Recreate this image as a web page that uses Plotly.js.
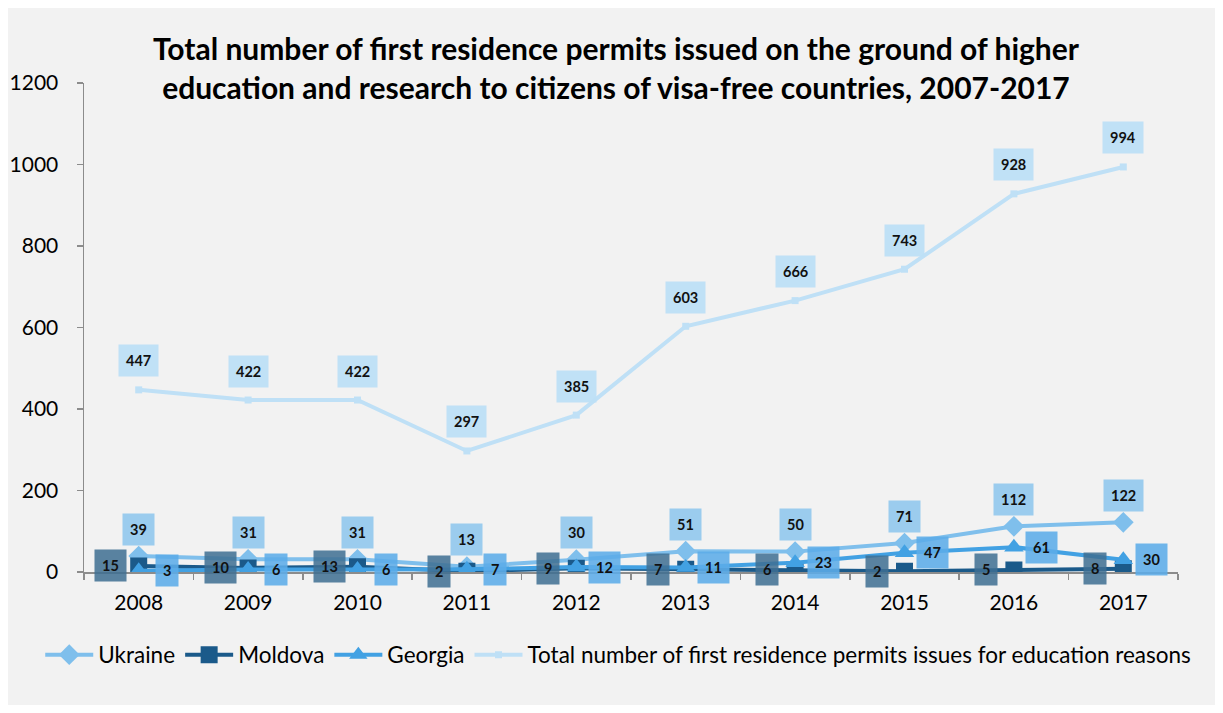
<!DOCTYPE html>
<html>
<head>
<meta charset="utf-8">
<script src="https://cdn.plot.ly/plotly-3.0.1.min.js"></script>
<style>
  html, body { margin: 0; padding: 0; background: #ffffff; }
  #chart { position: absolute; left: 8px; top: 8px; width: 1207px; height: 697px; }
</style>
</head>
<body>
<div id="chart"></div>
<script>
const years = ['2008','2009','2010','2011','2012','2013','2014','2015','2016','2017'];
const ukraine = [39, 31, 31, 13, 30, 51, 50, 71, 112, 122];
const moldova = [15, 10, 13, 2, 9, 7, 6, 2, 5, 8];
const georgia = [3, 6, 6, 7, 12, 11, 23, 47, 61, 30];
const total = [447, 422, 422, 297, 385, 603, 666, 743, 928, 994];
const seriesNames = ['Ukraine', 'Moldova', 'Georgia', 'Total number of first residence permits issues for education reasons'];

const FONT = 'Lato, "Open Sans", sans-serif';
const colors = {
  ukraine: '#7fbfec',
  moldova: '#1b5a8a',
  georgia: '#42a1e3',
  total: '#bfe0f6'
};
const labelBg = {
  ukraine: 'rgba(148,201,238,0.92)',
  moldova: 'rgba(62,110,146,0.85)',
  georgia: 'rgba(92,172,232,0.88)',
  total: 'rgba(189,223,245,0.95)'
};

const traces = [
  { name: seriesNames[0], x: years, y: ukraine, type: 'scatter', mode: 'lines+markers',
    line: { color: colors.ukraine, width: 4 },
    marker: { symbol: 'diamond', size: 16, color: colors.ukraine } },
  { name: seriesNames[1], x: years, y: moldova, type: 'scatter', mode: 'lines+markers',
    line: { color: colors.moldova, width: 4 },
    marker: { symbol: 'square', size: 15, color: colors.moldova, line: { color: colors.moldova, width: 2 } } },
  { name: seriesNames[2], x: years, y: georgia, type: 'scatter', mode: 'lines+markers',
    line: { color: colors.georgia, width: 4 },
    marker: { symbol: 'triangle-up', size: 17, color: colors.georgia } },
  { name: seriesNames[3], x: years, y: total, type: 'scatter', mode: 'lines+markers',
    line: { color: colors.total, width: 4 },
    marker: { symbol: 'square', size: 7, color: colors.total } }
];

// category axis: annotations positioned by category index
function labels(vals, bg, xshift, yshift) {
  return vals.map((v, i) => ({
    x: i, y: v, xref: 'x', yref: 'y', text: String(v), showarrow: false,
    xshift: xshift, yshift: yshift, bgcolor: bg, borderpad: 7,
    font: { family: FONT, size: 14.5, color: '#111111', weight: 'bold' }
  }));
}

const annotations = [].concat(
  labels(total, labelBg.total, 0, 29),
  labels(ukraine, labelBg.ukraine, 0, 27),
  labels(moldova, labelBg.moldova, -28, 0),
  labels(georgia, labelBg.georgia, 28, 0)
);

const layout = {
  width: 1207, height: 697,
  paper_bgcolor: '#f2f2f2', plot_bgcolor: '#f2f2f2',
  margin: { l: 76, r: 37, t: 75, b: 133, autoexpand: false },
  font: { family: FONT, color: '#000000' },
  title: {
    text: 'Total number of first residence permits issued on the ground of higher<br>education and research to citizens of visa-free countries, 2007-2017',
    font: { family: FONT, size: 30, color: '#000000', weight: 'bold' },
    xref: 'container', x: 0.5037, xanchor: 'center',
    yref: 'container', y: 1 - 52 / 697, yanchor: 'middle'
  },
  xaxis: {
    type: 'category', range: [-0.5, 9.5],
    showline: true, linecolor: '#8c8c8c', linewidth: 1.5,
    ticks: 'outside', tickson: 'boundaries', ticklen: 6, tickcolor: '#8c8c8c', tickwidth: 1.5,
    showgrid: false, zeroline: false, fixedrange: true,
    tickfont: { family: FONT, size: 21, color: '#000000' },
    ticklabelstandoff: 11
  },
  yaxis: {
    range: [0, 1200], dtick: 200, tick0: 0,
    showline: true, linecolor: '#8c8c8c', linewidth: 1.5,
    ticks: 'outside', ticklen: 6, tickcolor: '#8c8c8c', tickwidth: 1.5,
    showgrid: false, zeroline: false, fixedrange: true,
    tickfont: { family: FONT, size: 21, color: '#000000' },
    ticklabelstandoff: 14
  },
  legend: {
    orientation: 'h', xref: 'paper', x: -0.040, xanchor: 'left',
    yref: 'paper', y: -83 / 489, yanchor: 'middle',
    font: { family: FONT, size: 22.5, color: '#000000' },
    bgcolor: 'rgba(0,0,0,0)', itemwidth: 48, tracegroupgap: 0
  },
  annotations: annotations,
  showlegend: true
};

Plotly.newPlot('chart', traces, layout, { displayModeBar: false, staticPlot: true });
</script>
</body>
</html>
